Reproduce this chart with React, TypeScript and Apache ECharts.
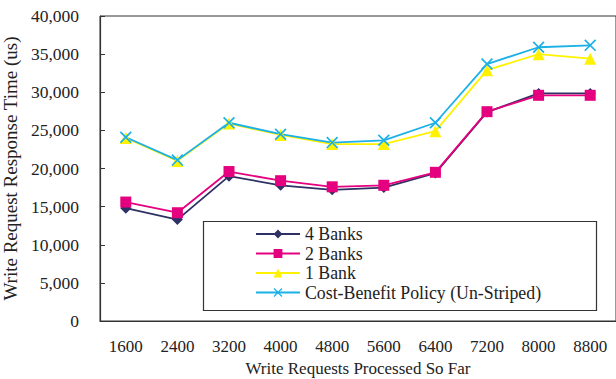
import React, { useEffect, useRef } from "react";
import * as echarts from "echarts";

// Write requests processed so far (x categories)
const categories = ["1600", "2400", "3200", "4000", "4800", "5600", "6400", "7200", "8000", "8800"];

// Write request response time (us) per configuration
const banks4 = [14800, 13300, 19000, 17800, 17200, 17500, 19400, 27400, 29850, 29850];
const banks2 = [15600, 14200, 19600, 18400, 17600, 17800, 19500, 27450, 29600, 29600];
const bank1 = [24000, 21000, 25900, 24400, 23200, 23200, 24900, 32900, 35000, 34400];
const costBenefit = [24100, 21100, 26000, 24500, 23400, 23700, 26000, 33700, 35900, 36150];

const seriesNames = ["4 Banks", "2 Banks", "1 Bank", "Cost-Benefit Policy (Un-Striped)"];

const FONT = "'Liberation Serif', 'Times New Roman', serif";
const TEXT = "#222";
const AXIS = "#333";

// Thin "x" marker built from two crossing bars
const CROSS = "path://M0,1 L1,0 L10,9 L9,10 Z M9,0 L10,1 L1,10 L0,9 Z";

export default function App() {
  const ref = useRef<HTMLDivElement>(null);

  useEffect(() => {
    if (!ref.current) return;
    const chart = echarts.init(ref.current, undefined, { renderer: "svg" });

    const mk = (name: string, data: number[], color: string, symbol: string, size: number) => ({
      name,
      type: "line",
      data,
      symbol,
      symbolSize: size,
      showSymbol: true,
      lineStyle: { color, width: 1.8 },
      itemStyle: { color },
      emphasis: { disabled: true },
    });

    chart.setOption({
      animation: false,
      grid: {
        left: 100,
        top: 16,
        right: 0,
        bottom: 58,
        show: true,
        borderColor: AXIS,
        borderWidth: 1,
        containLabel: false,
        outerBoundsMode: "none",
      },
      xAxis: {
        type: "category",
        data: categories,
        boundaryGap: true,
        name: "Write Requests Processed So Far",
        nameLocation: "middle",
        nameGap: 33,
        nameTextStyle: { fontFamily: FONT, fontSize: 17, color: TEXT },
        axisLine: { lineStyle: { color: AXIS, width: 1.2 } },
        axisTick: { inside: true, length: 5, lineStyle: { color: AXIS } },
        axisLabel: { fontFamily: FONT, fontSize: 17, color: TEXT, margin: 17 },
        splitLine: { show: false },
      },
      yAxis: {
        type: "value",
        min: 0,
        max: 40000,
        interval: 5000,
        name: "Write Request Response Time (us)",
        nameLocation: "middle",
        nameGap: 75,
        nameTextStyle: { fontFamily: FONT, fontSize: 19, color: TEXT },
        axisLine: { show: true, lineStyle: { color: AXIS, width: 1.2 } },
        axisTick: { show: true, inside: true, length: 5, lineStyle: { color: AXIS } },
        axisLabel: {
          fontFamily: FONT,
          fontSize: 17.5,
          color: TEXT,
          margin: 21,
          formatter: (v: number) => v.toLocaleString("en-US"),
        },
        splitLine: { show: false },
      },
      legend: {
        orient: "vertical",
        left: 255,
        top: 225,
        padding: 0,
        itemGap: 1.5,
        itemWidth: 44,
        itemHeight: 11,
        data: seriesNames,
        textStyle: { fontFamily: FONT, fontSize: 17.8, color: TEXT },
      },
      graphic: [
        {
          type: "rect",
          z: 0,
          shape: { x: 203.5, y: 221.5, width: 393, height: 89 },
          style: { fill: "#fff", stroke: AXIS, lineWidth: 1.2 },
        },
      ],
      series: [
        mk(seriesNames[0], banks4, "#2e3164", "diamond", 11),
        mk(seriesNames[1], banks2, "#e4007f", "rect", 11),
        mk(seriesNames[2], bank1, "#fff200", "triangle", 12),
        mk(seriesNames[3], costBenefit, "#1bb1e7", CROSS, 12),
      ],
    });

    return () => chart.dispose();
  }, []);

  return (
    <div
      ref={ref}
      style={{ position: "fixed", left: 0, top: 0, width: 616, height: 379, background: "#fff" }}
    />
  );
}
